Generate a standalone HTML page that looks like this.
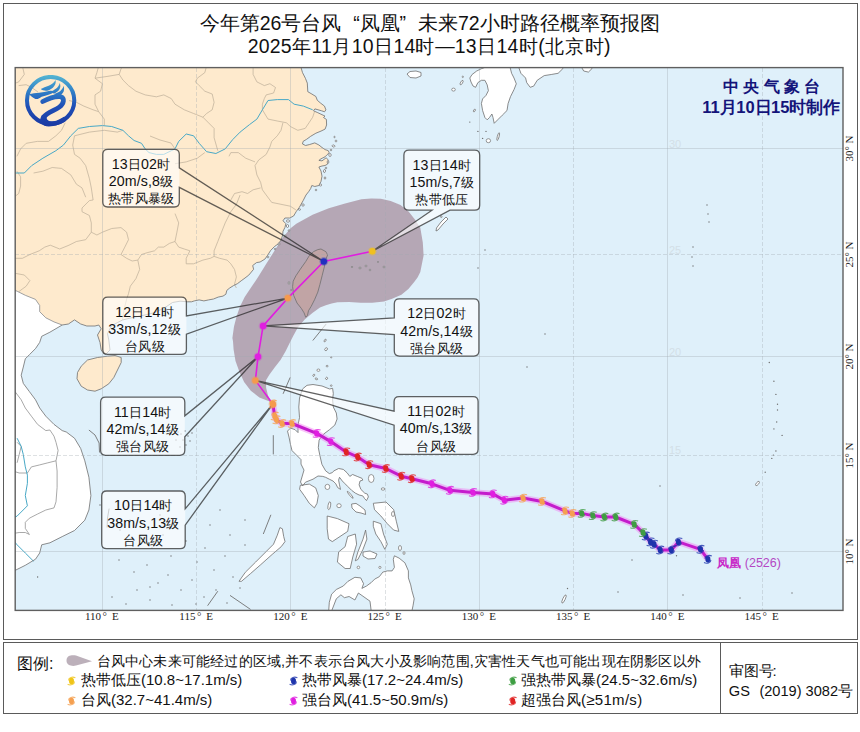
<!DOCTYPE html>
<html><head><meta charset="utf-8"><title>台风凤凰路径概率预报图</title>
<style>
html,body{margin:0;padding:0;background:#fff}
body{width:860px;height:732px;position:relative;overflow:hidden;font-family:"Liberation Sans",sans-serif;color:#111}
.t{position:absolute;white-space:nowrap;line-height:1}
.c{display:inline-block;white-space:nowrap;text-align:justify;text-align-last:justify;letter-spacing:0}
</style></head><body>
<svg width="860" height="732" style="position:absolute;left:0;top:0">
<defs><clipPath id="mc"><rect x="15" y="67.5" width="828" height="543"/></clipPath><linearGradient id="lg" x1="0" y1="0" x2="0" y2="1"><stop offset="0" stop-color="#4fb4d0"/><stop offset="0.5" stop-color="#2c68bc"/><stop offset="1" stop-color="#1a36a0"/></linearGradient></defs>
<g clip-path="url(#mc)">
<rect x="15" y="67" width="828" height="544" fill="#dff0fa"/>
<path d="M14.0,66.0 L300.6,66.0 L302.5,72.6 L305.4,78.3 L307.3,83.1 L307.8,91.7 L311.1,93.6 L315.9,96.5 L317.3,100.3 L320.7,103.2 L324.5,106.1 L325.9,109.9 L324.5,111.8 L321.6,110.8 L314.9,108.9 L313.5,110.8 L317.8,112.7 L325.0,116.1 L323.5,117.5 L326.4,119.4 L326.6,125.0 L325.1,129.1 L321.0,131.1 L315.9,133.2 L310.7,136.3 L306.6,139.3 L303.1,141.4 L302.5,144.0 L305.6,145.5 L309.7,144.5 L314.8,142.9 L318.9,145.0 L322.0,147.5 L325.1,149.6 L328.2,150.6 L329.2,152.7 L327.1,154.7 L325.1,156.8 L321.0,158.8 L318.9,160.4 L322.0,160.9 L326.1,157.8 L328.2,159.8 L327.7,164.0 L325.1,165.5 L322.0,166.0 L318.9,167.0 L321.0,171.1 L322.0,176.2 L321.0,181.4 L318.9,185.5 L314.8,186.5 L311.8,185.5 L310.7,188.5 L308.7,191.6 L306.0,195.0 L303.1,200.7 L299.3,207.4 L296.4,211.3 L293.6,216.0 L289.7,218.0 L284.9,218.0 L283.0,220.8 L285.9,223.7 L284.9,227.5 L283.0,231.3 L282.6,235.2 L281.1,240.0 L278.3,243.8 L274.4,246.6 L270.6,250.5 L267.7,255.2 L264.9,259.1 L260.1,262.0 L256.5,262.6 L252.7,265.5 L253.6,269.3 L248.8,275.1 L245.0,278.0 L241.2,280.8 L237.4,283.7 L233.5,285.6 L229.7,288.0 L226.8,290.4 L225.9,294.2 L223.0,296.1 L218.2,297.1 L213.5,299.0 L208.7,299.9 L203.9,300.9 L199.1,299.9 L194.3,300.9 L191.5,301.8 L187.6,301.8 L180.0,301.2 L172.5,302.5 L165.0,307.5 L155.0,312.5 L145.0,315.0 L132.5,317.5 L122.5,320.0 L117.5,322.5 L111.2,326.2 L107.5,333.8 L108.8,340.0 L110.0,350.0 L106.0,354.0 L103.8,353.8 L101.2,350.0 L100.0,342.5 L97.5,335.0 L101.2,328.8 L98.8,325.0 L95.0,326.0 L86.8,326.0 L80.7,324.0 L74.5,319.9 L68.4,324.0 L62.2,325.0 L54.0,321.9 L45.8,317.8 L39.7,311.7 L39.7,305.5 L35.5,299.4 L25.3,295.3 L17.1,291.2 L14.0,290.0 L14.0,66.0 Z" fill="#feeacd"/>
<path d="M62.2,325.0 L54.0,321.9 L45.8,317.8 L39.7,311.7 L39.7,305.5 L35.5,299.4 L25.3,295.3 L17.1,291.2 L14.0,290.0 L14.0,571.0 L13.0,571.5 L17.1,569.4 L25.3,565.3 L35.5,559.2 L39.7,553.0 L41.7,544.8 L49.9,542.8 L62.2,536.6 L74.5,530.5 L84.8,520.2 L88.9,510.0 L90.9,495.6 L88.9,477.2 L84.8,460.8 L80.7,448.5 L74.5,438.2 L66.3,432.0 L62.2,430.6 L54.0,424.4 L45.8,416.2 L39.7,408.0 L35.5,399.8 L29.4,391.6 L23.3,383.4 L21.2,375.2 L23.3,367.0 L25.3,358.8 L29.4,354.7 L35.5,348.6 L39.7,342.4 L41.7,336.3 L49.9,332.2 L62.2,325.0 Z" fill="#ffffff"/>
<path d="M87.5,360.0 L97.5,357.5 L107.5,356.2 L115.0,355.5 L121.2,357.5 L121.2,362.5 L117.5,370.0 L113.8,377.5 L108.8,383.8 L101.2,388.8 L95.0,391.2 L87.5,390.0 L81.2,386.2 L77.0,378.8 L77.5,372.5 L81.2,366.2 Z" fill="#feeacd"/>
<path d="M317.8,249.6 L321.0,249.0 L325.9,251.7 L327.6,255.0 L325.4,260.5 L324.3,267.0 L322.1,275.8 L319.9,284.5 L317.8,292.1 L314.5,299.8 L311.2,306.3 L308.5,310.7 L307.4,315.6 L305.7,317.2 L304.1,312.9 L301.4,308.5 L297.0,303.0 L293.7,295.4 L292.6,286.7 L293.2,281.2 L295.9,275.8 L300.3,269.2 L305.7,261.6 L309.0,256.1 L313.4,251.7 Z" fill="#feeacd"/>
<path d="M469.8,78.0 L472.1,74.5 L476.7,71.0 L481.4,68.7 L486.0,67.0 L510.0,67.0 L511.6,73.3 L514.0,78.0 L516.3,83.8 L514.0,89.6 L510.5,96.6 L508.1,103.5 L507.0,110.5 L502.3,115.2 L497.7,119.8 L494.2,123.3 L493.0,117.5 L491.9,114.0 L489.5,117.5 L487.2,119.8 L484.9,117.5 L482.6,110.5 L481.4,103.5 L482.6,98.9 L486.0,95.4 L488.4,90.7 L487.2,84.9 L484.9,80.3 L481.4,80.3 L477.9,82.6 L475.6,87.3 L473.0,86.0 L471.0,82.0 Z" fill="#ffffff"/>
<path d="M518.6,67.0 L520.9,73.3 L525.6,78.0 L526.7,82.6 L530.2,87.3 L533.7,86.1 L537.2,80.3 L544.2,75.6 L551.2,74.5 L558.1,73.3 L562.8,68.7 L563.0,67.0 Z" fill="#ffffff"/>
<path d="M581.4,67.0 L583.7,71.0 L588.4,72.1 L591.9,68.7 L592.0,67.0 Z" fill="#ffffff"/>
<path d="M407.0,74.0 L410.0,71.5 L416.0,71.0 L421.0,72.5 L421.0,76.0 L416.0,78.0 L410.0,77.5 Z" fill="#ffffff"/>
<path d="M302.5,389.0 L307.0,385.3 L313.0,384.5 L322.0,386.0 L329.6,389.0 L332.6,388.3 L333.3,393.5 L332.6,399.5 L333.3,407.0 L336.3,413.0 L337.1,419.0 L334.8,425.1 L329.6,429.6 L323.6,434.1 L319.1,440.1 L318.3,447.6 L319.8,455.1 L321.9,464.3 L325.6,470.8 L329.3,473.6 L332.1,472.7 L334.0,470.8 L338.6,468.5 L343.3,469.4 L347.0,472.7 L349.8,476.4 L352.6,474.5 L357.2,476.4 L361.9,478.3 L362.8,480.1 L360.0,481.0 L359.1,484.8 L360.9,489.4 L364.7,493.1 L367.4,494.1 L368.4,496.9 L366.5,500.6 L364.7,498.7 L362.8,495.9 L359.1,495.0 L355.3,493.1 L351.6,490.3 L347.9,486.6 L345.1,483.8 L342.3,481.0 L339.5,477.3 L338.6,480.1 L339.5,484.8 L340.5,489.4 L337.7,487.6 L335.8,483.8 L333.0,481.0 L329.3,479.2 L325.6,477.3 L322.8,476.4 L318.0,476.0 L313.0,479.2 L305.5,482.2 L302.5,486.0 L300.5,482.0 L304.0,470.1 L301.0,464.1 L301.0,459.6 L296.5,455.1 L292.0,450.6 L290.5,444.6 L289.0,437.1 L287.5,431.1 L290.5,428.1 L295.0,429.6 L298.0,432.6 L298.0,425.1 L299.5,417.6 L298.8,407.0 L299.5,398.0 Z" fill="#ffffff"/>
<path d="M300.3,485.3 L309.3,484.1 L315.7,487.9 L318.3,495.6 L317.0,503.3 L314.4,507.9 L309.3,503.3 L304.2,495.6 L299.6,489.2 Z" fill="#ffffff"/>
<path d="M239.0,581.3 L245.3,572.3 L255.6,562.1 L265.8,551.9 L273.5,544.2 L277.3,535.2 L279.9,527.6 L282.4,528.8 L283.7,536.5 L285.0,541.6 L281.2,546.7 L272.2,554.4 L260.7,564.7 L250.5,573.6 L241.5,581.3 Z" fill="#ffffff"/>
<path d="M327.2,516.0 L337.4,518.6 L349.0,523.7 L347.7,531.4 L340.0,536.5 L332.3,541.6 L328.5,539.1 L327.2,528.8 Z" fill="#ffffff"/>
<path d="M347.7,536.5 L355.3,534.0 L356.6,544.2 L352.8,557.0 L350.2,568.5 L345.1,568.5 L337.4,562.1 L338.7,551.9 L345.1,546.7 Z" fill="#ffffff"/>
<path d="M365.6,530.1 L363.0,539.1 L357.9,551.9 L355.3,560.8 L357.9,559.5 L363.0,549.3 L366.9,539.1 Z" fill="#ffffff"/>
<path d="M363.0,552.0 L370.0,551.0 L377.0,554.0 L375.0,558.5 L368.0,559.0 L363.0,556.0 Z" fill="#ffffff"/>
<path d="M373.3,521.2 L380.9,523.7 L383.5,534.0 L387.3,544.2 L384.8,549.3 L380.9,541.6 L375.8,534.0 L373.3,526.3 Z" fill="#ffffff"/>
<path d="M373.3,503.3 L386.0,502.0 L393.7,509.7 L396.3,521.2 L398.8,531.4 L393.7,530.1 L387.3,523.7 L380.9,516.0 L374.5,509.7 Z" fill="#ffffff"/>
<path d="M328.7,611.0 L329.3,602.3 L331.6,594.2 L336.3,589.5 L343.3,586.0 L347.9,581.4 L354.9,577.3 L360.7,577.9 L363.6,583.7 L361.9,588.4 L366.5,586.0 L371.2,582.6 L374.7,579.1 L379.3,576.7 L382.8,572.1 L387.4,570.9 L392.1,570.9 L394.4,567.4 L393.3,559.3 L394.4,555.8 L399.1,558.1 L404.9,562.8 L408.4,570.9 L408.4,577.9 L410.7,584.9 L411.9,590.7 L414.2,598.8 L413.0,605.8 L411.9,611.0 L371.2,611.0 L370.0,601.2 L358.4,593.0 L354.9,600.0 L349.1,596.5 L344.4,597.7 L340.9,594.8 L336.3,598.8 L331.6,611.0 Z" fill="#ffffff"/>
<path d="M446.0,217.0 L448.0,219.0 L443.0,224.0 L438.0,230.0 L436.0,231.0 L436.5,228.0 L441.0,222.0 Z" fill="#ffffff"/>
<path d="M351.6,504.0 L356.0,503.4 L360.0,506.0 L365.0,510.0 L365.6,514.5 L361.0,513.0 L356.0,512.0 L352.0,508.0 Z" fill="#ffffff"/>
<path d="M22.4,66.0 L24.3,74.4 L18.7,81.9 L14.0,83.7 M18.7,85.6 L26.2,84.7 L31.7,87.5 L38.0,92.0 M69.0,100.5 L76.4,102.3 L83.8,106.1 L93.1,109.8 L98.7,111.7 L104.3,119.1 L104.3,125.6 M98.7,66.0 L96.9,72.6 L95.0,78.2 L102.4,83.7 L100.6,91.2 L95.0,94.9 L95.0,104.2 L98.7,111.7 M95.0,78.2 L108.0,76.3 L119.2,74.4 L121.0,68.9 L122.9,66.0 M119.2,74.4 L122.9,80.0 L128.5,85.6 L135.9,91.2 L145.2,94.9 L156.4,96.8 L163.8,94.9 L171.3,98.6 L175.0,104.2 L184.3,109.8 L193.6,113.5 L202.9,117.2 M206.6,66.0 L204.8,72.6 L197.3,78.2 L195.5,81.9 L199.2,85.6 L204.8,91.2 L212.2,94.0 L214.1,102.3 L212.2,109.8 L206.6,113.5 L202.9,117.2 L208.5,122.8 L214.1,128.4 L214.1,137.7 L217.8,150.7 M65.2,122.8 L61.5,130.3 L55.9,135.8 L48.5,141.4 L37.3,141.4 L26.2,143.3 L20.6,148.9 L16.9,156.3 M74.5,135.8 L72.7,145.1 L74.5,154.4 L80.1,158.2 L85.7,165.6 L89.4,178.6 L91.3,187.9 L93.1,200.0 L89.4,200.6 L82.0,208.0 L82.0,211.7 L89.4,215.5 L91.3,222.9 L91.3,232.2 L96.9,235.0 L102.4,232.2 L111.7,228.5 L121.0,227.6 L126.6,232.2 L128.5,239.7 L124.8,247.1 L121.0,254.5 L126.6,258.3 L132.2,261.0 L137.8,260.1 L141.5,254.5 L147.1,252.7 L154.5,250.8 L158.3,247.1 L163.8,247.1 L169.4,243.4 L175.0,241.5 L178.7,247.1 L184.3,249.0 L189.9,250.8 L186.2,258.3 L186.2,263.8 L193.6,263.8 L202.9,260.1 L210.3,258.3 L214.1,256.4 M74.5,135.8 L89.4,132.1 L104.3,130.3 L117.3,132.1 L122.9,130.3 M16.9,171.2 L20.6,176.8 L20.6,186.1 L18.7,193.5 L14.0,197.2 M33.6,173.0 L42.9,171.2 L52.2,167.5 L61.5,168.4 L70.8,174.9 L76.4,184.2 L82.0,187.9 L85.7,197.2 M253.1,66.0 L253.1,74.4 L256.9,81.9 L264.3,85.6 L269.9,83.7 L275.5,87.5 L273.6,93.0 L266.2,94.9 L264.3,98.6 L262.4,104.2 L262.4,109.8 L268.0,119.1 L277.3,121.0 L286.6,122.8 L290.3,126.5 L297.8,130.3 L305.2,128.4 L309.0,122.8 L312.7,117.2 L314.5,111.7 M282.9,122.8 L281.0,130.3 L277.3,135.8 L271.7,141.4 L269.9,147.0 L266.2,154.4 L258.7,160.0 L255.0,165.6 L256.9,174.9 L260.6,182.3 L262.4,189.8 L266.2,195.0 L271.7,202.4 L281.0,204.3 L290.3,206.2 L295.9,209.9 M255.0,161.9 L245.7,158.2 L238.3,152.6 L230.8,152.6 L229.0,156.3 M175.0,163.7 L186.2,161.9 L197.3,158.2 L204.8,152.6 M230.8,200.0 L234.5,193.5 L242.0,191.7 L247.6,193.5 L253.1,189.8 L260.6,187.9 M240.1,195.0 L236.4,204.3 L230.8,211.7 L225.2,222.9 L221.5,232.2 L217.8,241.5 L214.1,250.8 L214.1,256.4 L219.7,258.3 L227.1,260.1 L230.8,263.8 L234.5,269.4 L236.4,276.9 L234.5,284.3 L236.4,288.0 M175.0,213.6 L178.7,222.9 L176.9,232.2 L175.0,241.5 M91.3,232.2 L85.7,239.7 L76.4,241.5 L69.0,245.2 L59.7,249.0 L50.3,245.2 L44.8,247.1 L39.2,250.8 L29.9,254.5 L22.4,258.3 L14.0,258.3 M137.8,260.1 L139.7,269.4 L135.9,278.7 L130.3,286.2 L128.5,293.6 L126.6,299.2 L124.0,310.0 L122.5,320.0 M14.0,273.1 L24.3,275.0 L29.9,280.6 L26.2,286.2 L18.7,291.7 M175.0,148.9 L171.0,143.0 L160.0,140.0 L150.0,136.0" fill="none" stroke="#bcae98" stroke-width="0.7"/>
<path d="M15.0,391.6 L21.2,399.8 L25.3,408.0 L31.4,416.2 L37.6,424.4 L45.8,430.6 L49.9,430.0 L54.0,436.2 L56.0,442.3 L58.1,450.5 L56.0,460.8 L57.1,471.0 L57.1,487.4 L56.0,501.8 L54.0,507.9 L45.8,510.0 L37.6,514.0 L29.4,518.2 L25.3,522.3 L25.3,528.4 L29.4,534.5 L25.3,532.5 L19.2,532.5 L13.0,533.5 M56.0,460.8 L47.9,462.8 L39.7,464.9 L31.4,466.9 L27.4,473.0 L19.2,473.0 L13.0,471.0 M17.1,442.3 L21.2,446.4 L19.2,454.6 L17.1,462.8" fill="none" stroke="#8c8c8c" stroke-width="0.75"/>
<path d="M14.0,173.0 L24.3,173.0 L31.7,165.6 L42.9,158.2 L55.9,150.7 L63.4,145.1 L70.8,135.8 L78.3,128.4 L89.4,126.5 L102.4,125.6 L111.7,126.5 L122.9,130.3 L128.5,135.8 L134.1,140.5 L141.5,143.3 L145.2,148.9 L149.0,152.6 L156.4,154.4 L163.8,154.4 L171.3,150.7 L175.0,148.9 L178.7,141.4 L186.2,134.0 L193.6,135.8 L199.2,143.3 L206.6,151.7 L215.9,153.5 L225.2,148.9 L232.7,139.6 L240.1,132.1 L249.4,124.7 L256.9,119.1 L262.4,109.8 L268.0,100.5 L277.3,99.6 L288.5,99.6 L294.1,104.2 L303.4,106.1 L312.7,109.8 M17.1,438.2 L21.2,446.4 L23.3,454.6 L25.3,466.9 L27.4,475.1 L27.4,483.3 L25.3,495.6 L27.4,505.8 L21.2,512.0 L17.1,516.1 L13.0,518.0 M13.0,540.0 L17.1,544.8 L25.3,553.0 L33.5,561.2" fill="none" stroke="#48a8c6" stroke-width="1"/>
<path d="M272.8,404.0 L269.0,401.2 L259.4,397.4 L250.8,390.7 L244.1,382.1 L239.3,371.5 L235.5,361.0 L233.6,349.6 L233.0,341.2 L232.4,338.1 L234.0,326.6 L236.5,316.8 L239.8,307.0 L244.7,297.1 L251.2,287.3 L257.8,277.5 L266.0,264.3 L274.2,251.2 L282.4,238.1 L290.6,228.3 L296.3,223.7 L312.6,214.8 L328.8,208.3 L345.1,203.4 L361.4,199.3 L371.2,198.5 L380.9,198.8 L390.7,201.0 L400.5,205.0 L408.6,211.5 L415.1,219.7 L420.3,227.7 L422.8,242.5 L423.6,255.6 L420.3,272.0 L417.7,277.3 L414.2,282.0 L408.4,289.0 L401.4,294.8 L392.1,298.8 L384.0,301.5 L372.3,302.7 L360.7,302.7 L349.1,302.0 L337.4,302.3 L331.6,303.5 L325.8,305.2 L320.0,307.6 L312.4,312.9 L304.7,319.6 L298.0,327.3 L293.2,335.9 L289.4,343.5 L285.6,351.2 L280.5,360.0 L275.0,367.0 L269.5,374.4 L266.0,380.2 L266.1,387.8 L268.0,395.4 L270.9,401.2 Z" fill="#9d7b8d" fill-opacity="0.63"/>
<path d="M300.6,66.0 L302.5,72.6 L305.4,78.3 L307.3,83.1 L307.8,91.7 L311.1,93.6 L315.9,96.5 L317.3,100.3 L320.7,103.2 L324.5,106.1 L325.9,109.9 L324.5,111.8 L321.6,110.8 L314.9,108.9 L313.5,110.8 L317.8,112.7 L325.0,116.1 L323.5,117.5 L326.4,119.4 L326.6,125.0 L325.1,129.1 L321.0,131.1 L315.9,133.2 L310.7,136.3 L306.6,139.3 L303.1,141.4 L302.5,144.0 L305.6,145.5 L309.7,144.5 L314.8,142.9 L318.9,145.0 L322.0,147.5 L325.1,149.6 L328.2,150.6 L329.2,152.7 L327.1,154.7 L325.1,156.8 L321.0,158.8 L318.9,160.4 L322.0,160.9 L326.1,157.8 L328.2,159.8 L327.7,164.0 L325.1,165.5 L322.0,166.0 L318.9,167.0 L321.0,171.1 L322.0,176.2 L321.0,181.4 L318.9,185.5 L314.8,186.5 L311.8,185.5 L310.7,188.5 L308.7,191.6 L306.0,195.0 L303.1,200.7 L299.3,207.4 L296.4,211.3 L293.6,216.0 L289.7,218.0 L284.9,218.0 L283.0,220.8 L285.9,223.7 L284.9,227.5 L283.0,231.3 L282.6,235.2 L281.1,240.0 L278.3,243.8 L274.4,246.6 L270.6,250.5 L267.7,255.2 L264.9,259.1 L260.1,262.0 L256.5,262.6 L252.7,265.5 L253.6,269.3 L248.8,275.1 L245.0,278.0 L241.2,280.8 L237.4,283.7 L233.5,285.6 L229.7,288.0 L226.8,290.4 L225.9,294.2 L223.0,296.1 L218.2,297.1 L213.5,299.0 L208.7,299.9 L203.9,300.9 L199.1,299.9 L194.3,300.9 L191.5,301.8 L187.6,301.8 L180.0,301.2 L172.5,302.5 L165.0,307.5 L155.0,312.5 L145.0,315.0 L132.5,317.5 L122.5,320.0 L117.5,322.5 L111.2,326.2 L107.5,333.8 L108.8,340.0 L110.0,350.0 L106.0,354.0 L103.8,353.8 L101.2,350.0 L100.0,342.5 L97.5,335.0 L101.2,328.8 L98.8,325.0 L95.0,326.0 L86.8,326.0 L80.7,324.0 L74.5,319.9 L68.4,324.0 L62.2,325.0 M62.2,325.0 L49.9,332.2 L41.7,336.3 L39.7,342.4 L35.5,348.6 L29.4,354.7 L25.3,358.8 L23.3,367.0 L21.2,375.2 L23.3,383.4 L29.4,391.6 L35.5,399.8 L39.7,408.0 L45.8,416.2 L54.0,424.4 L62.2,430.6 L66.3,432.0 L74.5,438.2 L80.7,448.5 L84.8,460.8 L88.9,477.2 L90.9,495.6 L88.9,510.0 L84.8,520.2 L74.5,530.5 L62.2,536.6 L49.9,542.8 L41.7,544.8 L39.7,553.0 L35.5,559.2 L25.3,565.3 L17.1,569.4 L13.0,571.5 M87.5,360.0 L97.5,357.5 L107.5,356.2 L115.0,355.5 L121.2,357.5 L121.2,362.5 L117.5,370.0 L113.8,377.5 L108.8,383.8 L101.2,388.8 L95.0,391.2 L87.5,390.0 L81.2,386.2 L77.0,378.8 L77.5,372.5 L81.2,366.2 Z M317.8,249.6 L321.0,249.0 L325.9,251.7 L327.6,255.0 L325.4,260.5 L324.3,267.0 L322.1,275.8 L319.9,284.5 L317.8,292.1 L314.5,299.8 L311.2,306.3 L308.5,310.7 L307.4,315.6 L305.7,317.2 L304.1,312.9 L301.4,308.5 L297.0,303.0 L293.7,295.4 L292.6,286.7 L293.2,281.2 L295.9,275.8 L300.3,269.2 L305.7,261.6 L309.0,256.1 L313.4,251.7 Z M469.8,78.0 L472.1,74.5 L476.7,71.0 L481.4,68.7 L486.0,67.0 L510.0,67.0 L511.6,73.3 L514.0,78.0 L516.3,83.8 L514.0,89.6 L510.5,96.6 L508.1,103.5 L507.0,110.5 L502.3,115.2 L497.7,119.8 L494.2,123.3 L493.0,117.5 L491.9,114.0 L489.5,117.5 L487.2,119.8 L484.9,117.5 L482.6,110.5 L481.4,103.5 L482.6,98.9 L486.0,95.4 L488.4,90.7 L487.2,84.9 L484.9,80.3 L481.4,80.3 L477.9,82.6 L475.6,87.3 L473.0,86.0 L471.0,82.0 Z M518.6,67.0 L520.9,73.3 L525.6,78.0 L526.7,82.6 L530.2,87.3 L533.7,86.1 L537.2,80.3 L544.2,75.6 L551.2,74.5 L558.1,73.3 L562.8,68.7 L563.0,67.0 Z M581.4,67.0 L583.7,71.0 L588.4,72.1 L591.9,68.7 L592.0,67.0 Z M407.0,74.0 L410.0,71.5 L416.0,71.0 L421.0,72.5 L421.0,76.0 L416.0,78.0 L410.0,77.5 Z M302.5,389.0 L307.0,385.3 L313.0,384.5 L322.0,386.0 L329.6,389.0 L332.6,388.3 L333.3,393.5 L332.6,399.5 L333.3,407.0 L336.3,413.0 L337.1,419.0 L334.8,425.1 L329.6,429.6 L323.6,434.1 L319.1,440.1 L318.3,447.6 L319.8,455.1 L321.9,464.3 L325.6,470.8 L329.3,473.6 L332.1,472.7 L334.0,470.8 L338.6,468.5 L343.3,469.4 L347.0,472.7 L349.8,476.4 L352.6,474.5 L357.2,476.4 L361.9,478.3 L362.8,480.1 L360.0,481.0 L359.1,484.8 L360.9,489.4 L364.7,493.1 L367.4,494.1 L368.4,496.9 L366.5,500.6 L364.7,498.7 L362.8,495.9 L359.1,495.0 L355.3,493.1 L351.6,490.3 L347.9,486.6 L345.1,483.8 L342.3,481.0 L339.5,477.3 L338.6,480.1 L339.5,484.8 L340.5,489.4 L337.7,487.6 L335.8,483.8 L333.0,481.0 L329.3,479.2 L325.6,477.3 L322.8,476.4 L318.0,476.0 L313.0,479.2 L305.5,482.2 L302.5,486.0 L300.5,482.0 L304.0,470.1 L301.0,464.1 L301.0,459.6 L296.5,455.1 L292.0,450.6 L290.5,444.6 L289.0,437.1 L287.5,431.1 L290.5,428.1 L295.0,429.6 L298.0,432.6 L298.0,425.1 L299.5,417.6 L298.8,407.0 L299.5,398.0 Z M300.3,485.3 L309.3,484.1 L315.7,487.9 L318.3,495.6 L317.0,503.3 L314.4,507.9 L309.3,503.3 L304.2,495.6 L299.6,489.2 Z M239.0,581.3 L245.3,572.3 L255.6,562.1 L265.8,551.9 L273.5,544.2 L277.3,535.2 L279.9,527.6 L282.4,528.8 L283.7,536.5 L285.0,541.6 L281.2,546.7 L272.2,554.4 L260.7,564.7 L250.5,573.6 L241.5,581.3 Z M327.2,516.0 L337.4,518.6 L349.0,523.7 L347.7,531.4 L340.0,536.5 L332.3,541.6 L328.5,539.1 L327.2,528.8 Z M347.7,536.5 L355.3,534.0 L356.6,544.2 L352.8,557.0 L350.2,568.5 L345.1,568.5 L337.4,562.1 L338.7,551.9 L345.1,546.7 Z M365.6,530.1 L363.0,539.1 L357.9,551.9 L355.3,560.8 L357.9,559.5 L363.0,549.3 L366.9,539.1 Z M363.0,552.0 L370.0,551.0 L377.0,554.0 L375.0,558.5 L368.0,559.0 L363.0,556.0 Z M373.3,521.2 L380.9,523.7 L383.5,534.0 L387.3,544.2 L384.8,549.3 L380.9,541.6 L375.8,534.0 L373.3,526.3 Z M373.3,503.3 L386.0,502.0 L393.7,509.7 L396.3,521.2 L398.8,531.4 L393.7,530.1 L387.3,523.7 L380.9,516.0 L374.5,509.7 Z M328.7,611.0 L329.3,602.3 L331.6,594.2 L336.3,589.5 L343.3,586.0 L347.9,581.4 L354.9,577.3 L360.7,577.9 L363.6,583.7 L361.9,588.4 L366.5,586.0 L371.2,582.6 L374.7,579.1 L379.3,576.7 L382.8,572.1 L387.4,570.9 L392.1,570.9 L394.4,567.4 L393.3,559.3 L394.4,555.8 L399.1,558.1 L404.9,562.8 L408.4,570.9 L408.4,577.9 L410.7,584.9 L411.9,590.7 L414.2,598.8 L413.0,605.8 L411.9,611.0 L371.2,611.0 L370.0,601.2 L358.4,593.0 L354.9,600.0 L349.1,596.5 L344.4,597.7 L340.9,594.8 L336.3,598.8 L331.6,611.0 Z M446.0,217.0 L448.0,219.0 L443.0,224.0 L438.0,230.0 L436.0,231.0 L436.5,228.0 L441.0,222.0 Z M351.6,504.0 L356.0,503.4 L360.0,506.0 L365.0,510.0 L365.6,514.5 L361.0,513.0 L356.0,512.0 L352.0,508.0 Z" fill="none" stroke="#6e6e6e" stroke-width="0.8" stroke-linejoin="round"/>
<path d="M62.2,325.0 L54.0,321.9 L45.8,317.8 L39.7,311.7 L39.7,305.5 L35.5,299.4 L25.3,295.3 L17.1,291.2 L14.0,290.0" fill="none" stroke="#8a8a8a" stroke-width="0.8"/>
<g fill="#ffffff" stroke="#6e6e6e" stroke-width="0.7"><ellipse cx="441.3" cy="216.7" rx="0.8" ry="0.8" transform="rotate(0 441.3 216.7)"/><ellipse cx="488.4" cy="140.7" rx="2.2" ry="2.0" transform="rotate(0 488.4 140.7)"/><ellipse cx="498.2" cy="136.6" rx="0.9" ry="4" transform="rotate(15 498.2 136.6)"/><ellipse cx="453.5" cy="89.6" rx="1.8" ry="1.5" transform="rotate(0 453.5 89.6)"/><ellipse cx="461.6" cy="82.6" rx="1" ry="2.5" transform="rotate(30 461.6 82.6)"/><ellipse cx="462.8" cy="76.8" rx="0.6" ry="0.8" transform="rotate(0 462.8 76.8)"/><ellipse cx="474.4" cy="110.5" rx="0.8" ry="1.5" transform="rotate(30 474.4 110.5)"/><ellipse cx="325.1" cy="340.5" rx="0.8" ry="1.5" transform="rotate(30 325.1 340.5)"/><ellipse cx="326.1" cy="349.2" rx="1.2" ry="1.6" transform="rotate(40 326.1 349.2)"/><ellipse cx="331.2" cy="357.4" rx="0.6" ry="0.6" transform="rotate(0 331.2 357.4)"/><ellipse cx="327.1" cy="366.1" rx="1" ry="0.8" transform="rotate(0 327.1 366.1)"/><ellipse cx="318.4" cy="370.2" rx="1.5" ry="1.2" transform="rotate(0 318.4 370.2)"/><ellipse cx="313.8" cy="375.3" rx="0.8" ry="1.2" transform="rotate(30 313.8 375.3)"/><ellipse cx="316.4" cy="378.9" rx="1.3" ry="0.8" transform="rotate(20 316.4 378.9)"/><ellipse cx="326.6" cy="378.4" rx="1" ry="1.2" transform="rotate(30 326.6 378.4)"/><ellipse cx="331.2" cy="385.6" rx="0.8" ry="0.8" transform="rotate(0 331.2 385.6)"/><ellipse cx="330" cy="155" rx="1.2" ry="1.5" transform="rotate(0 330 155)"/><ellipse cx="328" cy="162" rx="1" ry="1" transform="rotate(0 328 162)"/><ellipse cx="326" cy="168" rx="0.8" ry="0.8" transform="rotate(0 326 168)"/><ellipse cx="331" cy="150" rx="0.8" ry="0.8" transform="rotate(0 331 150)"/><ellipse cx="333.5" cy="146" rx="1.4" ry="1" transform="rotate(20 333.5 146)"/><ellipse cx="336" cy="141" rx="0.9" ry="0.9" transform="rotate(0 336 141)"/><ellipse cx="334.5" cy="137" rx="0.7" ry="0.7" transform="rotate(0 334.5 137)"/><ellipse cx="324.5" cy="171" rx="1" ry="1.6" transform="rotate(10 324.5 171)"/><ellipse cx="325" cy="178" rx="0.8" ry="1.2" transform="rotate(0 325 178)"/><ellipse cx="320.5" cy="185" rx="1.2" ry="1" transform="rotate(0 320.5 185)"/><ellipse cx="316" cy="190" rx="0.8" ry="0.8" transform="rotate(0 316 190)"/><ellipse cx="303" cy="205" rx="1.3" ry="1.1" transform="rotate(0 303 205)"/><ellipse cx="299.5" cy="209.5" rx="1" ry="0.8" transform="rotate(0 299.5 209.5)"/><ellipse cx="288" cy="221" rx="1.6" ry="1.2" transform="rotate(0 288 221)"/><ellipse cx="287.5" cy="226" rx="1.1" ry="1.5" transform="rotate(0 287.5 226)"/><ellipse cx="289" cy="230.5" rx="0.8" ry="0.8" transform="rotate(0 289 230.5)"/><ellipse cx="285" cy="236" rx="1" ry="1" transform="rotate(0 285 236)"/><ellipse cx="279" cy="244" rx="0.9" ry="1.2" transform="rotate(0 279 244)"/><ellipse cx="275" cy="249" rx="0.8" ry="0.8" transform="rotate(0 275 249)"/><ellipse cx="268" cy="257" rx="0.9" ry="0.9" transform="rotate(0 268 257)"/><ellipse cx="360" cy="268" rx="1.2" ry="0.8" transform="rotate(0 360 268)"/><ellipse cx="366" cy="266" rx="1.0" ry="0.8" transform="rotate(0 366 266)"/><ellipse cx="370" cy="270" rx="0.8" ry="0.8" transform="rotate(0 370 270)"/><ellipse cx="352" cy="267" rx="0.8" ry="0.6" transform="rotate(0 352 267)"/><ellipse cx="378" cy="262" rx="0.6" ry="0.6" transform="rotate(0 378 262)"/><ellipse cx="384" cy="267" rx="1.0" ry="0.8" transform="rotate(0 384 267)"/><ellipse cx="289" cy="283" rx="0.8" ry="1.5" transform="rotate(0 289 283)"/><ellipse cx="291" cy="290" rx="0.6" ry="0.8" transform="rotate(0 291 290)"/><ellipse cx="371.2" cy="478.5" rx="2.8" ry="4" transform="rotate(0 371.2 478.5)"/><ellipse cx="327.4" cy="486.9" rx="2.4" ry="2.6" transform="rotate(0 327.4 486.9)"/><ellipse cx="350.2" cy="494.8" rx="0.8" ry="4.5" transform="rotate(-40 350.2 494.8)"/><ellipse cx="329.3" cy="505.7" rx="1.3" ry="4" transform="rotate(10 329.3 505.7)"/><ellipse cx="339" cy="505.7" rx="2.2" ry="2" transform="rotate(0 339 505.7)"/><ellipse cx="358.4" cy="567.4" rx="1.3" ry="1.3" transform="rotate(0 358.4 567.4)"/><ellipse cx="379.9" cy="567.4" rx="1.1" ry="1.1" transform="rotate(0 379.9 567.4)"/><ellipse cx="393" cy="514" rx="1.5" ry="2.5" transform="rotate(0 393 514)"/><ellipse cx="757.5" cy="483.5" rx="1.2" ry="2.6" transform="rotate(40 757.5 483.5)"/><ellipse cx="564" cy="599" rx="1.2" ry="4.5" transform="rotate(25 564 599)"/><ellipse cx="383" cy="489" rx="1.8" ry="1.2" transform="rotate(0 383 489)"/><ellipse cx="400" cy="548" rx="1.5" ry="2.5" transform="rotate(0 400 548)"/><ellipse cx="404" cy="553" rx="1" ry="1.5" transform="rotate(0 404 553)"/></g>
<g fill="#707070"><circle cx="178" cy="432" r="0.7"/><circle cx="181" cy="434" r="0.7"/><circle cx="185" cy="431" r="0.7"/><circle cx="188" cy="436" r="0.7"/><circle cx="183" cy="440" r="0.7"/><circle cx="190" cy="441" r="0.7"/><circle cx="186" cy="445" r="0.7"/><circle cx="180" cy="447" r="0.7"/><circle cx="176" cy="440" r="0.7"/><circle cx="192" cy="433" r="0.7"/><circle cx="120" cy="530" r="0.7"/><circle cx="128" cy="541" r="0.7"/><circle cx="140" cy="527" r="0.7"/><circle cx="152" cy="548" r="0.7"/><circle cx="163" cy="535" r="0.7"/><circle cx="171" cy="556" r="0.7"/><circle cx="186" cy="541" r="0.7"/><circle cx="197" cy="562" r="0.7"/><circle cx="205" cy="548" r="0.7"/><circle cx="214" cy="570" r="0.7"/><circle cx="225" cy="556" r="0.7"/><circle cx="233" cy="577" r="0.7"/><circle cx="119" cy="560" r="0.7"/><circle cx="134" cy="572" r="0.7"/><circle cx="147" cy="565" r="0.7"/><circle cx="158" cy="583" r="0.7"/><circle cx="168" cy="575" r="0.7"/><circle cx="181" cy="590" r="0.7"/><circle cx="192" cy="580" r="0.7"/><circle cx="204" cy="597" r="0.7"/><circle cx="216" cy="590" r="0.7"/><circle cx="227" cy="603" r="0.7"/><circle cx="240" cy="588" r="0.7"/><circle cx="112" cy="597" r="0.7"/><circle cx="126" cy="604" r="0.7"/><circle cx="150" cy="600" r="0.7"/><circle cx="172" cy="605" r="0.7"/><circle cx="196" cy="604" r="0.7"/><circle cx="130" cy="520" r="0.7"/><circle cx="160" cy="515" r="0.7"/><circle cx="210" cy="525" r="0.7"/><circle cx="230" cy="535" r="0.7"/><circle cx="245" cy="545" r="0.7"/><circle cx="245" cy="520" r="0.7"/><circle cx="220" cy="510" r="0.7"/><circle cx="150" cy="587" r="0.7"/><circle cx="137" cy="590" r="0.7"/><circle cx="100" cy="505" r="0.7"/><circle cx="37.6" cy="577" r="0.7"/><circle cx="707" cy="205" r="0.7"/><circle cx="708" cy="214" r="0.7"/><circle cx="709" cy="222" r="0.7"/><circle cx="693" cy="247" r="0.7"/><circle cx="692" cy="257" r="0.7"/><circle cx="693" cy="266" r="0.7"/><circle cx="478" cy="268" r="0.7"/><circle cx="485" cy="250" r="0.7"/><circle cx="527" cy="367" r="0.7"/><circle cx="545" cy="334" r="0.7"/><circle cx="769.3" cy="362.5" r="0.7"/><circle cx="773.9" cy="381.3" r="0.7"/><circle cx="775.9" cy="394.4" r="0.7"/><circle cx="777.5" cy="404.3" r="0.7"/><circle cx="777.5" cy="410" r="0.7"/><circle cx="776.7" cy="422" r="0.7"/><circle cx="773.9" cy="428.9" r="0.7"/><circle cx="782.1" cy="435.4" r="0.7"/><circle cx="775.9" cy="451" r="0.7"/><circle cx="773.4" cy="455.1" r="0.7"/><circle cx="771.8" cy="458.4" r="0.7"/><circle cx="765.2" cy="472.3" r="0.7"/><circle cx="660" cy="486" r="0.7"/><circle cx="469.8" cy="122.1" r="0.7"/><circle cx="486" cy="131.4" r="0.7"/><circle cx="482.6" cy="138.4" r="0.7"/><circle cx="477.9" cy="131.4" r="0.7"/><circle cx="632" cy="560" r="0.7"/><circle cx="676.5" cy="555.8" r="0.7"/><circle cx="618" cy="592" r="0.7"/><circle cx="683" cy="595" r="0.7"/><circle cx="740" cy="598" r="0.7"/><circle cx="792" cy="593" r="0.7"/><circle cx="567.5" cy="588.5" r="0.7"/></g>
<path d="M312.8,340.5 L326.1,324.1 M283.1,393.8 L290.2,377.4 M273.3,435.2 L273.3,454.4 M88.9,430.0 L95.0,435.0 L99.1,443.0 L99.5,452.5 M109.1,508.6 L107.5,518.0 L107.1,527.5 M270.9,514.8 L263.3,534.0 M217.8,591.2 L207.6,605.7 M230.0,595.4 L250.5,609.4" fill="none" stroke="#707070" stroke-width="0.9"/>
<line x1="102.5" y1="68" x2="102.5" y2="610" stroke="#a0a8b0" stroke-opacity="0.35" stroke-width="1"/>
<line x1="196.5" y1="68" x2="196.5" y2="610" stroke="#a0a8b0" stroke-opacity="0.35" stroke-width="1" stroke-dasharray="4,2"/>
<line x1="290.5" y1="68" x2="290.5" y2="610" stroke="#a0a8b0" stroke-opacity="0.35" stroke-width="1"/>
<line x1="385.5" y1="68" x2="385.5" y2="610" stroke="#a0a8b0" stroke-opacity="0.35" stroke-width="1" stroke-dasharray="4,2"/>
<line x1="479.5" y1="68" x2="479.5" y2="610" stroke="#a0a8b0" stroke-opacity="0.35" stroke-width="1"/>
<line x1="573.5" y1="68" x2="573.5" y2="610" stroke="#a0a8b0" stroke-opacity="0.35" stroke-width="1" stroke-dasharray="4,2"/>
<line x1="667.5" y1="68" x2="667.5" y2="610" stroke="#a0a8b0" stroke-opacity="0.35" stroke-width="1"/>
<line x1="762.5" y1="68" x2="762.5" y2="610" stroke="#a0a8b0" stroke-opacity="0.35" stroke-width="1" stroke-dasharray="4,2"/>
<line x1="15" y1="551.5" x2="843" y2="551.5" stroke="#a0a8b0" stroke-opacity="0.35" stroke-width="1"/>
<line x1="15" y1="455.5" x2="843" y2="455.5" stroke="#a0a8b0" stroke-opacity="0.35" stroke-width="1" stroke-dasharray="4,2"/>
<line x1="15" y1="356.5" x2="843" y2="356.5" stroke="#a0a8b0" stroke-opacity="0.35" stroke-width="1"/>
<line x1="15" y1="254.5" x2="843" y2="254.5" stroke="#a0a8b0" stroke-opacity="0.35" stroke-width="1" stroke-dasharray="4,2"/>
<line x1="15" y1="148.5" x2="843" y2="148.5" stroke="#a0a8b0" stroke-opacity="0.35" stroke-width="1"/>
<svg x="20" y="75" width="62" height="52" viewBox="0 0 860 721" preserveAspectRatio="none"><defs><linearGradient id="lg2" gradientUnits="userSpaceOnUse" x1="0" y1="0" x2="0" y2="721"><stop offset="0" stop-color="#56b6d2"/><stop offset="0.3" stop-color="#3282c8"/><stop offset="0.6" stop-color="#1f4fb6"/><stop offset="1" stop-color="#1a38a2"/></linearGradient></defs><ellipse cx="425" cy="352" rx="328" ry="325" fill="none" stroke="url(#lg2)" stroke-width="56"/><g fill="url(#lg2)"><path d="M128,266 C210,250 320,240 400,222 C445,212 475,222 462,246 C430,262 370,282 300,300 C280,318 250,335 215,332 C190,318 160,300 128,266 Z"/><path d="M288,195 C350,160 450,150 492,70 C512,130 455,195 390,215 C350,225 310,215 288,195 Z"/><path d="M425,232 C485,205 530,180 552,112 C580,185 530,238 468,258 Z"/><path d="M468,262 C540,242 585,215 606,148 C628,230 585,282 520,290 Z"/></g><path d="M315,368 C400,320 500,292 565,300 C625,320 610,400 545,445 C470,495 380,520 330,580 C290,640 330,680 400,680 C480,680 560,650 610,615" fill="none" stroke="url(#lg2)" stroke-width="66" stroke-linecap="round"/><path d="M300,560 C275,630 320,690 410,690 C480,690 545,662 600,630 C540,640 470,650 420,640 C370,630 360,590 380,560 Z" fill="url(#lg2)"/></svg>
</g>
<path d="M272.8,404.0 L274.7,416.0 L276.5,419.8 L282.1,423.5 L291.9,423.5 L316.7,433.4 L330.8,441.6 L346.2,451.9 L357.7,457.0 L369.2,464.7 L385.8,468.5 L401.2,476.2 L411.9,478.7 L431.9,483.8 L449.9,490.3 L472.9,492.4 L492.8,493.9 L504.3,500.2 L523.1,498.1 L542.0,501.4 L565.0,510.9 L572.3,513.4 L581.7,513.4 L592.8,515.6 L604.4,517.0 L615.6,517.0 L634.2,524.4 L643.0,532.6 L645.8,536.0 L650.5,541.9 L654.0,544.2 L660.2,550.0 L671.4,550.0 L678.4,541.9 L700.5,549.3 L707.9,559.3" fill="none" stroke="#f27cf2" stroke-opacity="0.45" stroke-width="6.5" stroke-linejoin="round"/>
<path d="M272.8,404.0 L274.7,416.0 L276.5,419.8 L282.1,423.5 L291.9,423.5 L316.7,433.4 L330.8,441.6 L346.2,451.9 L357.7,457.0 L369.2,464.7 L385.8,468.5 L401.2,476.2 L411.9,478.7 L431.9,483.8 L449.9,490.3 L472.9,492.4 L492.8,493.9 L504.3,500.2 L523.1,498.1 L542.0,501.4 L565.0,510.9 L572.3,513.4 L581.7,513.4 L592.8,515.6 L604.4,517.0 L615.6,517.0 L634.2,524.4 L643.0,532.6 L645.8,536.0 L650.5,541.9 L654.0,544.2 L660.2,550.0 L671.4,550.0 L678.4,541.9 L700.5,549.3 L707.9,559.3" fill="none" stroke="#c41ccc" stroke-width="3" stroke-linejoin="round"/>
<path d="M272.8,404.0 L255.4,380.4 L258.0,356.8 L263.1,325.9 L287.8,298.1 L323.8,261.5 L372.3,251.3" fill="none" stroke="#e01ee0" stroke-width="1.6"/>
<rect x="102.85" y="149.3" width="76.5" height="57.7" rx="5" fill="#ffffff" fill-opacity="0.62"/>
<path d="M107.8,149.3 H174.3 Q179.3,149.3 179.3,154.3 V167.9 L323.8,261.5 L179.3,187.4 V202.0 Q179.3,207.0 174.3,207.0 H107.8 Q102.8,207.0 102.8,202.0 V154.3 Q102.8,149.3 107.8,149.3 Z" fill="none" stroke="#262626" stroke-opacity="0.72" stroke-width="1.3"/>
<path d="M408.9,150.2 H474.7 Q479.7,150.2 479.7,155.2 V205.2 Q479.7,210.2 474.7,210.2 H450.0 L372.3,251.3 L432.0,210.2 H408.9 Q403.9,210.2 403.9,205.2 V155.2 Q403.9,150.2 408.9,150.2 Z" fill="#ffffff" fill-opacity="0.62" stroke="#262626" stroke-opacity="0.72" stroke-width="1.3"/>
<rect x="102.8" y="297.2" width="83.6" height="57.2" rx="5" fill="#ffffff" fill-opacity="0.62"/>
<path d="M107.8,297.2 H181.4 Q186.4,297.2 186.4,302.2 V316.0 L287.8,298.1 L186.4,334.2 V349.4 Q186.4,354.4 181.4,354.4 H107.8 Q102.8,354.4 102.8,349.4 V302.2 Q102.8,297.2 107.8,297.2 Z" fill="none" stroke="#262626" stroke-opacity="0.72" stroke-width="1.3"/>
<path d="M399.3,298.9 H473.9 Q478.9,298.9 478.9,303.9 V351.1 Q478.9,356.1 473.9,356.1 H399.3 Q394.3,356.1 394.3,351.1 V334.7 L263.1,325.9 L394.3,317.9 V303.9 Q394.3,298.9 399.3,298.9 Z" fill="#ffffff" fill-opacity="0.62" stroke="#262626" stroke-opacity="0.72" stroke-width="1.3"/>
<rect x="100.6" y="397.2" width="84.2" height="58.1" rx="5" fill="#ffffff" fill-opacity="0.62"/>
<path d="M105.6,397.2 H179.8 Q184.8,397.2 184.8,402.2 V415.8 L258.0,356.8 L184.8,436.7 V450.3 Q184.8,455.3 179.8,455.3 H105.6 Q100.6,455.3 100.6,450.3 V402.2 Q100.6,397.2 105.6,397.2 Z" fill="none" stroke="#262626" stroke-opacity="0.72" stroke-width="1.3"/>
<path d="M399.1,396.6 H473.1 Q478.1,396.6 478.1,401.6 V449.3 Q478.1,454.3 473.1,454.3 H399.1 Q394.1,454.3 394.1,449.3 V425.1 L255.4,380.4 L394.1,411.2 V401.6 Q394.1,396.6 399.1,396.6 Z" fill="#ffffff" fill-opacity="0.62" stroke="#262626" stroke-opacity="0.72" stroke-width="1.3"/>
<rect x="101.7" y="491.0" width="83.5" height="57.7" rx="5" fill="#ffffff" fill-opacity="0.62"/>
<path d="M106.7,491.0 H180.2 Q185.2,491.0 185.2,496.0 V508.8 L272.8,404.0 L185.2,525.1 V543.7 Q185.2,548.7 180.2,548.7 H106.7 Q101.7,548.7 101.7,543.7 V496.0 Q101.7,491.0 106.7,491.0 Z" fill="none" stroke="#262626" stroke-opacity="0.72" stroke-width="1.3"/>
<g transform="translate(707.9,559.3)"><ellipse rx="2.50" ry="3.20" fill="#1e34ac"/><path d="M-3.00,-0.60 C-3.00,-3.60 1.00,-4.60 3.90,-3.30 M3.00,0.60 C3.00,3.60 -1.00,4.60 -3.90,3.30" fill="none" stroke="#1e34ac" stroke-width="1.10" stroke-opacity="0.8"/></g>
<g transform="translate(700.5,549.3)"><ellipse rx="2.50" ry="3.20" fill="#1e34ac"/><path d="M-3.00,-0.60 C-3.00,-3.60 1.00,-4.60 3.90,-3.30 M3.00,0.60 C3.00,3.60 -1.00,4.60 -3.90,3.30" fill="none" stroke="#1e34ac" stroke-width="1.10" stroke-opacity="0.8"/></g>
<g transform="translate(678.4,541.9)"><ellipse rx="2.50" ry="3.20" fill="#1e34ac"/><path d="M-3.00,-0.60 C-3.00,-3.60 1.00,-4.60 3.90,-3.30 M3.00,0.60 C3.00,3.60 -1.00,4.60 -3.90,3.30" fill="none" stroke="#1e34ac" stroke-width="1.10" stroke-opacity="0.8"/></g>
<g transform="translate(671.4,550.0)"><ellipse rx="2.50" ry="3.20" fill="#1e34ac"/><path d="M-3.00,-0.60 C-3.00,-3.60 1.00,-4.60 3.90,-3.30 M3.00,0.60 C3.00,3.60 -1.00,4.60 -3.90,3.30" fill="none" stroke="#1e34ac" stroke-width="1.10" stroke-opacity="0.8"/></g>
<g transform="translate(660.2,550.0)"><ellipse rx="2.50" ry="3.20" fill="#1e34ac"/><path d="M-3.00,-0.60 C-3.00,-3.60 1.00,-4.60 3.90,-3.30 M3.00,0.60 C3.00,3.60 -1.00,4.60 -3.90,3.30" fill="none" stroke="#1e34ac" stroke-width="1.10" stroke-opacity="0.8"/></g>
<g transform="translate(654.0,544.2)"><ellipse rx="2.50" ry="3.20" fill="#1e34ac"/><path d="M-3.00,-0.60 C-3.00,-3.60 1.00,-4.60 3.90,-3.30 M3.00,0.60 C3.00,3.60 -1.00,4.60 -3.90,3.30" fill="none" stroke="#1e34ac" stroke-width="1.10" stroke-opacity="0.8"/></g>
<g transform="translate(650.5,541.9)"><ellipse rx="2.50" ry="3.20" fill="#1e34ac"/><path d="M-3.00,-0.60 C-3.00,-3.60 1.00,-4.60 3.90,-3.30 M3.00,0.60 C3.00,3.60 -1.00,4.60 -3.90,3.30" fill="none" stroke="#1e34ac" stroke-width="1.10" stroke-opacity="0.8"/></g>
<g transform="translate(645.8,536.0)"><ellipse rx="2.50" ry="3.20" fill="#1e34ac"/><path d="M-3.00,-0.60 C-3.00,-3.60 1.00,-4.60 3.90,-3.30 M3.00,0.60 C3.00,3.60 -1.00,4.60 -3.90,3.30" fill="none" stroke="#1e34ac" stroke-width="1.10" stroke-opacity="0.8"/></g>
<g transform="translate(643.0,532.6)"><ellipse rx="2.50" ry="3.20" fill="#3e9e42"/><path d="M-3.00,-0.60 C-3.00,-3.60 1.00,-4.60 3.90,-3.30 M3.00,0.60 C3.00,3.60 -1.00,4.60 -3.90,3.30" fill="none" stroke="#3e9e42" stroke-width="1.10" stroke-opacity="0.8"/></g>
<g transform="translate(634.2,524.4)"><ellipse rx="2.50" ry="3.20" fill="#3e9e42"/><path d="M-3.00,-0.60 C-3.00,-3.60 1.00,-4.60 3.90,-3.30 M3.00,0.60 C3.00,3.60 -1.00,4.60 -3.90,3.30" fill="none" stroke="#3e9e42" stroke-width="1.10" stroke-opacity="0.8"/></g>
<g transform="translate(615.6,517.0)"><ellipse rx="2.50" ry="3.20" fill="#3e9e42"/><path d="M-3.00,-0.60 C-3.00,-3.60 1.00,-4.60 3.90,-3.30 M3.00,0.60 C3.00,3.60 -1.00,4.60 -3.90,3.30" fill="none" stroke="#3e9e42" stroke-width="1.10" stroke-opacity="0.8"/></g>
<g transform="translate(604.4,517.0)"><ellipse rx="2.50" ry="3.20" fill="#3e9e42"/><path d="M-3.00,-0.60 C-3.00,-3.60 1.00,-4.60 3.90,-3.30 M3.00,0.60 C3.00,3.60 -1.00,4.60 -3.90,3.30" fill="none" stroke="#3e9e42" stroke-width="1.10" stroke-opacity="0.8"/></g>
<g transform="translate(592.8,515.6)"><ellipse rx="2.50" ry="3.20" fill="#3e9e42"/><path d="M-3.00,-0.60 C-3.00,-3.60 1.00,-4.60 3.90,-3.30 M3.00,0.60 C3.00,3.60 -1.00,4.60 -3.90,3.30" fill="none" stroke="#3e9e42" stroke-width="1.10" stroke-opacity="0.8"/></g>
<g transform="translate(581.7,513.4)"><ellipse rx="2.50" ry="3.20" fill="#3e9e42"/><path d="M-3.00,-0.60 C-3.00,-3.60 1.00,-4.60 3.90,-3.30 M3.00,0.60 C3.00,3.60 -1.00,4.60 -3.90,3.30" fill="none" stroke="#3e9e42" stroke-width="1.10" stroke-opacity="0.8"/></g>
<g transform="translate(572.3,513.4)"><ellipse rx="2.50" ry="3.20" fill="#f5a050"/><path d="M-3.00,-0.60 C-3.00,-3.60 1.00,-4.60 3.90,-3.30 M3.00,0.60 C3.00,3.60 -1.00,4.60 -3.90,3.30" fill="none" stroke="#f5a050" stroke-width="1.10" stroke-opacity="0.8"/></g>
<g transform="translate(565.0,510.9)"><ellipse rx="2.50" ry="3.20" fill="#f5a050"/><path d="M-3.00,-0.60 C-3.00,-3.60 1.00,-4.60 3.90,-3.30 M3.00,0.60 C3.00,3.60 -1.00,4.60 -3.90,3.30" fill="none" stroke="#f5a050" stroke-width="1.10" stroke-opacity="0.8"/></g>
<g transform="translate(542.0,501.4)"><ellipse rx="2.50" ry="3.20" fill="#f5a050"/><path d="M-3.00,-0.60 C-3.00,-3.60 1.00,-4.60 3.90,-3.30 M3.00,0.60 C3.00,3.60 -1.00,4.60 -3.90,3.30" fill="none" stroke="#f5a050" stroke-width="1.10" stroke-opacity="0.8"/></g>
<g transform="translate(523.1,498.1)"><ellipse rx="2.50" ry="3.20" fill="#f5a050"/><path d="M-3.00,-0.60 C-3.00,-3.60 1.00,-4.60 3.90,-3.30 M3.00,0.60 C3.00,3.60 -1.00,4.60 -3.90,3.30" fill="none" stroke="#f5a050" stroke-width="1.10" stroke-opacity="0.8"/></g>
<g transform="translate(504.3,500.2)"><ellipse rx="2.50" ry="3.20" fill="#e01ee0"/><path d="M-3.00,-0.60 C-3.00,-3.60 1.00,-4.60 3.90,-3.30 M3.00,0.60 C3.00,3.60 -1.00,4.60 -3.90,3.30" fill="none" stroke="#e01ee0" stroke-width="1.10" stroke-opacity="0.8"/></g>
<g transform="translate(492.8,493.9)"><ellipse rx="2.50" ry="3.20" fill="#e01ee0"/><path d="M-3.00,-0.60 C-3.00,-3.60 1.00,-4.60 3.90,-3.30 M3.00,0.60 C3.00,3.60 -1.00,4.60 -3.90,3.30" fill="none" stroke="#e01ee0" stroke-width="1.10" stroke-opacity="0.8"/></g>
<g transform="translate(472.9,492.4)"><ellipse rx="2.50" ry="3.20" fill="#e01ee0"/><path d="M-3.00,-0.60 C-3.00,-3.60 1.00,-4.60 3.90,-3.30 M3.00,0.60 C3.00,3.60 -1.00,4.60 -3.90,3.30" fill="none" stroke="#e01ee0" stroke-width="1.10" stroke-opacity="0.8"/></g>
<g transform="translate(449.9,490.3)"><ellipse rx="2.50" ry="3.20" fill="#e01ee0"/><path d="M-3.00,-0.60 C-3.00,-3.60 1.00,-4.60 3.90,-3.30 M3.00,0.60 C3.00,3.60 -1.00,4.60 -3.90,3.30" fill="none" stroke="#e01ee0" stroke-width="1.10" stroke-opacity="0.8"/></g>
<g transform="translate(431.9,483.8)"><ellipse rx="2.50" ry="3.20" fill="#e01ee0"/><path d="M-3.00,-0.60 C-3.00,-3.60 1.00,-4.60 3.90,-3.30 M3.00,0.60 C3.00,3.60 -1.00,4.60 -3.90,3.30" fill="none" stroke="#e01ee0" stroke-width="1.10" stroke-opacity="0.8"/></g>
<g transform="translate(411.9,478.7)"><ellipse rx="2.50" ry="3.20" fill="#e02424"/><path d="M-3.00,-0.60 C-3.00,-3.60 1.00,-4.60 3.90,-3.30 M3.00,0.60 C3.00,3.60 -1.00,4.60 -3.90,3.30" fill="none" stroke="#e02424" stroke-width="1.10" stroke-opacity="0.8"/></g>
<g transform="translate(401.2,476.2)"><ellipse rx="2.50" ry="3.20" fill="#e02424"/><path d="M-3.00,-0.60 C-3.00,-3.60 1.00,-4.60 3.90,-3.30 M3.00,0.60 C3.00,3.60 -1.00,4.60 -3.90,3.30" fill="none" stroke="#e02424" stroke-width="1.10" stroke-opacity="0.8"/></g>
<g transform="translate(385.8,468.5)"><ellipse rx="2.50" ry="3.20" fill="#e02424"/><path d="M-3.00,-0.60 C-3.00,-3.60 1.00,-4.60 3.90,-3.30 M3.00,0.60 C3.00,3.60 -1.00,4.60 -3.90,3.30" fill="none" stroke="#e02424" stroke-width="1.10" stroke-opacity="0.8"/></g>
<g transform="translate(369.2,464.7)"><ellipse rx="2.50" ry="3.20" fill="#e02424"/><path d="M-3.00,-0.60 C-3.00,-3.60 1.00,-4.60 3.90,-3.30 M3.00,0.60 C3.00,3.60 -1.00,4.60 -3.90,3.30" fill="none" stroke="#e02424" stroke-width="1.10" stroke-opacity="0.8"/></g>
<g transform="translate(357.7,457.0)"><ellipse rx="2.50" ry="3.20" fill="#e02424"/><path d="M-3.00,-0.60 C-3.00,-3.60 1.00,-4.60 3.90,-3.30 M3.00,0.60 C3.00,3.60 -1.00,4.60 -3.90,3.30" fill="none" stroke="#e02424" stroke-width="1.10" stroke-opacity="0.8"/></g>
<g transform="translate(346.2,451.9)"><ellipse rx="2.50" ry="3.20" fill="#e02424"/><path d="M-3.00,-0.60 C-3.00,-3.60 1.00,-4.60 3.90,-3.30 M3.00,0.60 C3.00,3.60 -1.00,4.60 -3.90,3.30" fill="none" stroke="#e02424" stroke-width="1.10" stroke-opacity="0.8"/></g>
<g transform="translate(330.8,441.6)"><ellipse rx="2.50" ry="3.20" fill="#e01ee0"/><path d="M-3.00,-0.60 C-3.00,-3.60 1.00,-4.60 3.90,-3.30 M3.00,0.60 C3.00,3.60 -1.00,4.60 -3.90,3.30" fill="none" stroke="#e01ee0" stroke-width="1.10" stroke-opacity="0.8"/></g>
<g transform="translate(316.7,433.4)"><ellipse rx="2.50" ry="3.20" fill="#e01ee0"/><path d="M-3.00,-0.60 C-3.00,-3.60 1.00,-4.60 3.90,-3.30 M3.00,0.60 C3.00,3.60 -1.00,4.60 -3.90,3.30" fill="none" stroke="#e01ee0" stroke-width="1.10" stroke-opacity="0.8"/></g>
<g transform="translate(291.9,423.5)"><ellipse rx="2.50" ry="3.20" fill="#f5a050"/><path d="M-3.00,-0.60 C-3.00,-3.60 1.00,-4.60 3.90,-3.30 M3.00,0.60 C3.00,3.60 -1.00,4.60 -3.90,3.30" fill="none" stroke="#f5a050" stroke-width="1.10" stroke-opacity="0.8"/></g>
<g transform="translate(282.1,423.5)"><ellipse rx="2.50" ry="3.20" fill="#f5a050"/><path d="M-3.00,-0.60 C-3.00,-3.60 1.00,-4.60 3.90,-3.30 M3.00,0.60 C3.00,3.60 -1.00,4.60 -3.90,3.30" fill="none" stroke="#f5a050" stroke-width="1.10" stroke-opacity="0.8"/></g>
<g transform="translate(276.5,419.8)"><ellipse rx="2.50" ry="3.20" fill="#f5a050"/><path d="M-3.00,-0.60 C-3.00,-3.60 1.00,-4.60 3.90,-3.30 M3.00,0.60 C3.00,3.60 -1.00,4.60 -3.90,3.30" fill="none" stroke="#f5a050" stroke-width="1.10" stroke-opacity="0.8"/></g>
<g transform="translate(274.7,416.0)"><ellipse rx="2.50" ry="3.20" fill="#f5a050"/><path d="M-3.00,-0.60 C-3.00,-3.60 1.00,-4.60 3.90,-3.30 M3.00,0.60 C3.00,3.60 -1.00,4.60 -3.90,3.30" fill="none" stroke="#f5a050" stroke-width="1.10" stroke-opacity="0.8"/></g>
<g transform="translate(272.8,404.0)"><ellipse rx="2.50" ry="3.20" fill="#f5a050"/><path d="M-3.00,-0.60 C-3.00,-3.60 1.00,-4.60 3.90,-3.30 M3.00,0.60 C3.00,3.60 -1.00,4.60 -3.90,3.30" fill="none" stroke="#f5a050" stroke-width="1.10" stroke-opacity="0.8"/></g>
<circle cx="272.8" cy="404" r="4.4" fill="#f59a4c" fill-opacity="0.3"/><circle cx="272.8" cy="404" r="3.2" fill="#f59a4c"/>
<circle cx="255.4" cy="380.4" r="4.4" fill="#f59a4c" fill-opacity="0.3"/><circle cx="255.4" cy="380.4" r="3.2" fill="#f59a4c"/>
<circle cx="258" cy="356.8" r="4.4" fill="#e020e0" fill-opacity="0.3"/><circle cx="258" cy="356.8" r="3.2" fill="#e020e0"/>
<circle cx="263.1" cy="325.9" r="4.4" fill="#e020e0" fill-opacity="0.3"/><circle cx="263.1" cy="325.9" r="3.2" fill="#e020e0"/>
<circle cx="287.8" cy="298.1" r="4.4" fill="#f59a4c" fill-opacity="0.3"/><circle cx="287.8" cy="298.1" r="3.2" fill="#f59a4c"/>
<circle cx="323.8" cy="261.5" r="4.4" fill="#2030c0" fill-opacity="0.3"/><circle cx="323.8" cy="261.5" r="3.2" fill="#2030c0"/>
<circle cx="372.3" cy="251.3" r="4.4" fill="#f0c020" fill-opacity="0.3"/><circle cx="372.3" cy="251.3" r="3.2" fill="#f0c020"/>
<rect x="3.5" y="3.5" width="854" height="636" fill="none" stroke="#5a5a5a" stroke-width="1"/>
<rect x="15.2" y="67.6" width="827.8" height="542.8" fill="none" stroke="#5f5f5f" stroke-width="1.4"/>
<rect x="3.5" y="642.5" width="854" height="71" fill="none" stroke="#5a5a5a" stroke-width="1"/>
<line x1="720.5" y1="642.5" x2="720.5" y2="713.5" stroke="#5a5a5a" stroke-width="1"/>
<path d="M66.5,660.5 C66.5,655.3 72,654.8 76,655.6 L92,661.2 L76,665.6 C72,666.4 66.5,665.7 66.5,660.5 Z" fill="#bcb0ba"/>
<g transform="translate(71.5,681.0)"><ellipse rx="2.50" ry="3.20" fill="#f0c418"/><path d="M-3.00,-0.60 C-3.00,-3.60 1.00,-4.60 3.90,-3.30 M3.00,0.60 C3.00,3.60 -1.00,4.60 -3.90,3.30" fill="none" stroke="#f0c418" stroke-width="1.10" stroke-opacity="0.8"/></g>
<g transform="translate(71.5,701.0)"><ellipse rx="2.50" ry="3.20" fill="#f5a050"/><path d="M-3.00,-0.60 C-3.00,-3.60 1.00,-4.60 3.90,-3.30 M3.00,0.60 C3.00,3.60 -1.00,4.60 -3.90,3.30" fill="none" stroke="#f5a050" stroke-width="1.10" stroke-opacity="0.8"/></g>
<g transform="translate(293.5,681.0)"><ellipse rx="2.50" ry="3.20" fill="#1e34ac"/><path d="M-3.00,-0.60 C-3.00,-3.60 1.00,-4.60 3.90,-3.30 M3.00,0.60 C3.00,3.60 -1.00,4.60 -3.90,3.30" fill="none" stroke="#1e34ac" stroke-width="1.10" stroke-opacity="0.8"/></g>
<g transform="translate(293.5,701.0)"><ellipse rx="2.50" ry="3.20" fill="#e01ee0"/><path d="M-3.00,-0.60 C-3.00,-3.60 1.00,-4.60 3.90,-3.30 M3.00,0.60 C3.00,3.60 -1.00,4.60 -3.90,3.30" fill="none" stroke="#e01ee0" stroke-width="1.10" stroke-opacity="0.8"/></g>
<g transform="translate(512.7,681.0)"><ellipse rx="2.50" ry="3.20" fill="#3e9e42"/><path d="M-3.00,-0.60 C-3.00,-3.60 1.00,-4.60 3.90,-3.30 M3.00,0.60 C3.00,3.60 -1.00,4.60 -3.90,3.30" fill="none" stroke="#3e9e42" stroke-width="1.10" stroke-opacity="0.8"/></g>
<g transform="translate(512.7,701.0)"><ellipse rx="2.50" ry="3.20" fill="#e02424"/><path d="M-3.00,-0.60 C-3.00,-3.60 1.00,-4.60 3.90,-3.30 M3.00,0.60 C3.00,3.60 -1.00,4.60 -3.90,3.30" fill="none" stroke="#e02424" stroke-width="1.10" stroke-opacity="0.8"/></g>
</svg>
<div class="t" style="left:129.5px;width:600px;text-align:center;top:13.5px;font-size:19.5px;"><span class="c" style="width:59.85px">今年第</span>26<span class="c" style="width:59.85px">号台风</span><span style="margin-left:12px">“</span><span class="c" style="width:39.90px">凤凰</span><span style="margin-right:12px">”</span><span class="c" style="width:39.90px">未来</span>72<span class="c" style="width:179.55px">小时路径概率预报图</span></div>
<div class="t" style="left:129.2px;width:600px;text-align:center;top:37px;font-size:19.45px;letter-spacing:0.2px">2025<span class="c" style="width:19.70px">年</span>11<span class="c" style="width:19.70px">月</span>10<span class="c" style="width:19.70px">日</span>14<span class="c" style="width:19.70px">时</span>—13<span class="c" style="width:19.70px">日</span>14<span class="c" style="width:19.70px">时</span>(<span class="c" style="width:59.10px">北京时</span>)</div>
<div class="t" style="left:671.5px;width:200px;text-align:center;top:78.5px;font-size:16px;font-weight:bold;color:#14147a"><span class="c" style="width:16.00px">中</span> <span class="c" style="width:16.00px">央</span> <span class="c" style="width:16.00px">气</span> <span class="c" style="width:16.00px">象</span> <span class="c" style="width:16.00px">台</span></div>
<div class="t" style="left:670.6px;width:200px;text-align:center;top:98.5px;font-size:16.5px;font-weight:bold;color:#14147a">11<span class="c" style="width:16.50px">月</span>10<span class="c" style="width:16.50px">日</span>15<span class="c" style="width:49.50px">时制作</span></div>
<div class="t" style="left:81.1px;width:120px;text-align:center;top:156.60000000000002px;font-size:14.2px;letter-spacing:0.1px">13<span class="c" style="font-size:13.45px;width:13.30px">日</span>02<span class="c" style="font-size:13.45px;width:13.30px">时</span></div>
<div class="t" style="left:81.1px;width:120px;text-align:center;top:174.00000000000003px;font-size:14.2px;letter-spacing:0.1px">20m/s,8<span class="c" style="font-size:13.45px;width:13.30px">级</span></div>
<div class="t" style="left:81.1px;width:120px;text-align:center;top:191.40000000000003px;font-size:14.2px;letter-spacing:0.1px"><span class="c" style="font-size:13.45px;width:66.50px">热带风暴级</span></div>
<div class="t" style="left:381.8px;width:120px;text-align:center;top:157.5px;font-size:14.2px;letter-spacing:0.1px">13<span class="c" style="font-size:13.45px;width:13.30px">日</span>14<span class="c" style="font-size:13.45px;width:13.30px">时</span></div>
<div class="t" style="left:381.8px;width:120px;text-align:center;top:174.9px;font-size:14.2px;letter-spacing:0.1px">15m/s,7<span class="c" style="font-size:13.45px;width:13.30px">级</span></div>
<div class="t" style="left:381.8px;width:120px;text-align:center;top:192.3px;font-size:14.2px;letter-spacing:0.1px"><span class="c" style="font-size:13.45px;width:53.20px">热带低压</span></div>
<div class="t" style="left:84.6px;width:120px;text-align:center;top:304.5px;font-size:14.2px;letter-spacing:0.1px">12<span class="c" style="font-size:13.45px;width:13.30px">日</span>14<span class="c" style="font-size:13.45px;width:13.30px">时</span></div>
<div class="t" style="left:84.6px;width:120px;text-align:center;top:321.9px;font-size:14.2px;letter-spacing:0.1px">33m/s,12<span class="c" style="font-size:13.45px;width:13.30px">级</span></div>
<div class="t" style="left:84.6px;width:120px;text-align:center;top:339.3px;font-size:14.2px;letter-spacing:0.1px"><span class="c" style="font-size:13.45px;width:39.90px">台风级</span></div>
<div class="t" style="left:376.6px;width:120px;text-align:center;top:306.2px;font-size:14.2px;letter-spacing:0.1px">12<span class="c" style="font-size:13.45px;width:13.30px">日</span>02<span class="c" style="font-size:13.45px;width:13.30px">时</span></div>
<div class="t" style="left:376.6px;width:120px;text-align:center;top:323.59999999999997px;font-size:14.2px;letter-spacing:0.1px">42m/s,14<span class="c" style="font-size:13.45px;width:13.30px">级</span></div>
<div class="t" style="left:376.6px;width:120px;text-align:center;top:341.0px;font-size:14.2px;letter-spacing:0.1px"><span class="c" style="font-size:13.45px;width:53.20px">强台风级</span></div>
<div class="t" style="left:82.7px;width:120px;text-align:center;top:404.5px;font-size:14.2px;letter-spacing:0.1px">11<span class="c" style="font-size:13.45px;width:13.30px">日</span>14<span class="c" style="font-size:13.45px;width:13.30px">时</span></div>
<div class="t" style="left:82.7px;width:120px;text-align:center;top:421.9px;font-size:14.2px;letter-spacing:0.1px">42m/s,14<span class="c" style="font-size:13.45px;width:13.30px">级</span></div>
<div class="t" style="left:82.7px;width:120px;text-align:center;top:439.3px;font-size:14.2px;letter-spacing:0.1px"><span class="c" style="font-size:13.45px;width:53.20px">强台风级</span></div>
<div class="t" style="left:376.1px;width:120px;text-align:center;top:403.90000000000003px;font-size:14.2px;letter-spacing:0.1px">11<span class="c" style="font-size:13.45px;width:13.30px">日</span>02<span class="c" style="font-size:13.45px;width:13.30px">时</span></div>
<div class="t" style="left:376.1px;width:120px;text-align:center;top:421.3px;font-size:14.2px;letter-spacing:0.1px">40m/s,13<span class="c" style="font-size:13.45px;width:13.30px">级</span></div>
<div class="t" style="left:376.1px;width:120px;text-align:center;top:438.70000000000005px;font-size:14.2px;letter-spacing:0.1px"><span class="c" style="font-size:13.45px;width:39.90px">台风级</span></div>
<div class="t" style="left:83.4px;width:120px;text-align:center;top:498.3px;font-size:14.2px;letter-spacing:0.1px">10<span class="c" style="font-size:13.45px;width:13.30px">日</span>14<span class="c" style="font-size:13.45px;width:13.30px">时</span></div>
<div class="t" style="left:83.4px;width:120px;text-align:center;top:515.7px;font-size:14.2px;letter-spacing:0.1px">38m/s,13<span class="c" style="font-size:13.45px;width:13.30px">级</span></div>
<div class="t" style="left:83.4px;width:120px;text-align:center;top:533.1px;font-size:14.2px;letter-spacing:0.1px"><span class="c" style="font-size:13.45px;width:39.90px">台风级</span></div>
<div class="t" style="left:71.9px;width:60px;text-align:center;top:610.5px;font-size:11px;font-family:'Liberation Serif',serif;color:#222">110<span style="margin-left:1.5px">°</span><span style="margin-left:5px">E</span></div>
<div class="t" style="left:166.2px;width:60px;text-align:center;top:610.5px;font-size:11px;font-family:'Liberation Serif',serif;color:#222">115<span style="margin-left:1.5px">°</span><span style="margin-left:5px">E</span></div>
<div class="t" style="left:260.4px;width:60px;text-align:center;top:610.5px;font-size:11px;font-family:'Liberation Serif',serif;color:#222">120<span style="margin-left:1.5px">°</span><span style="margin-left:5px">E</span></div>
<div class="t" style="left:354.6px;width:60px;text-align:center;top:610.5px;font-size:11px;font-family:'Liberation Serif',serif;color:#222">125<span style="margin-left:1.5px">°</span><span style="margin-left:5px">E</span></div>
<div class="t" style="left:448.9px;width:60px;text-align:center;top:610.5px;font-size:11px;font-family:'Liberation Serif',serif;color:#222">130<span style="margin-left:1.5px">°</span><span style="margin-left:5px">E</span></div>
<div class="t" style="left:543.2px;width:60px;text-align:center;top:610.5px;font-size:11px;font-family:'Liberation Serif',serif;color:#222">135<span style="margin-left:1.5px">°</span><span style="margin-left:5px">E</span></div>
<div class="t" style="left:637.4px;width:60px;text-align:center;top:610.5px;font-size:11px;font-family:'Liberation Serif',serif;color:#222">140<span style="margin-left:1.5px">°</span><span style="margin-left:5px">E</span></div>
<div class="t" style="left:731.6px;width:60px;text-align:center;top:610.5px;font-size:11px;font-family:'Liberation Serif',serif;color:#222">145<span style="margin-left:1.5px">°</span><span style="margin-left:5px">E</span></div>
<div class="t" style="left:819px;top:545.9px;width:60px;text-align:center;font-size:11px;font-family:'Liberation Serif',serif;color:#222;transform:rotate(-90deg);transform-origin:50% 50%">10°&nbsp;N</div>
<div class="t" style="left:819px;top:449.6px;width:60px;text-align:center;font-size:11px;font-family:'Liberation Serif',serif;color:#222;transform:rotate(-90deg);transform-origin:50% 50%">15°&nbsp;N</div>
<div class="t" style="left:819px;top:351.1px;width:60px;text-align:center;font-size:11px;font-family:'Liberation Serif',serif;color:#222;transform:rotate(-90deg);transform-origin:50% 50%">20°&nbsp;N</div>
<div class="t" style="left:819px;top:249.3px;width:60px;text-align:center;font-size:11px;font-family:'Liberation Serif',serif;color:#222;transform:rotate(-90deg);transform-origin:50% 50%">25°&nbsp;N</div>
<div class="t" style="left:819px;top:143.3px;width:60px;text-align:center;font-size:11px;font-family:'Liberation Serif',serif;color:#222;transform:rotate(-90deg);transform-origin:50% 50%">30°&nbsp;N</div>
<div class="t" style="left:669px;top:138.5px;font-size:11px;color:#d3dfe7">30</div>
<div class="t" style="left:669px;top:244.5px;font-size:11px;color:#d3dfe7">25</div>
<div class="t" style="left:669px;top:346.5px;font-size:11px;color:#d3dfe7">20</div>
<div class="t" style="left:669px;top:444.5px;font-size:11px;color:#d3dfe7">15</div>
<div class="t" style="left:716.5px;top:557px;font-size:12px;color:#c828c8"><b><span class="c" style="width:24.80px">凤凰</span></b><span style="font-size:12.5px;margin-left:3.5px;color:#b448c4">(2526)</span></div>
<div class="t" style="left:17px;top:656px;font-size:16px;"><span class="c" style="width:32.00px">图例</span>:</div>
<div class="t" style="left:96.5px;top:653.5px;font-size:14.4px;"><span class="c" style="width:184.60px">台风中心未来可能经过的区域</span>,<span class="c" style="width:184.60px">并不表示台风大小及影响范围</span>,<span class="c" style="width:227.20px">灾害性天气也可能出现在阴影区以外</span></div>
<div class="t" style="left:81px;top:672px;font-size:15px;"><span class="c" style="width:60.00px">热带低压</span>(10.8~17.1m/s)</div>
<div class="t" style="left:81px;top:692px;font-size:15px;"><span class="c" style="width:30.00px">台风</span>(32.7~41.4m/s)</div>
<div class="t" style="left:302px;top:672px;font-size:15px;"><span class="c" style="width:60.00px">热带风暴</span>(17.2~24.4m/s)</div>
<div class="t" style="left:302px;top:692px;font-size:15px;"><span class="c" style="width:45.00px">强台风</span>(41.5~50.9m/s)</div>
<div class="t" style="left:521px;top:672px;font-size:15px;"><span class="c" style="width:75.00px">强热带风暴</span>(24.5~32.6m/s)</div>
<div class="t" style="left:521px;top:692px;font-size:15px;letter-spacing:0.3px"><span class="c" style="width:60.00px">超强台风</span>(≥51m/s)</div>
<div class="t" style="left:728.8px;top:663px;font-size:15px;"><span class="c" style="width:43.80px">审图号</span>:</div>
<div class="t" style="left:728.8px;top:684.3px;font-size:14.6px;">GS<span style="margin-left:9.5px">(2019)</span><span style="margin-left:4px">3082<span class="c" style="width:14.50px">号</span></span></div>
</body></html>
